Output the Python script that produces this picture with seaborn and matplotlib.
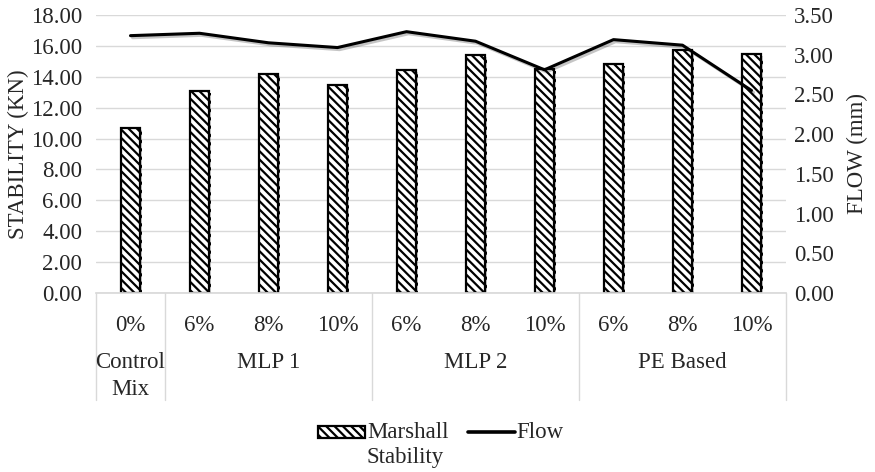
import matplotlib
matplotlib.use("Agg")
import matplotlib.pyplot as plt
import matplotlib.patheffects as pe
from matplotlib.lines import Line2D
from matplotlib.patches import Rectangle
import matplotlib.transforms as mtransforms
import seaborn as sns
import pandas as pd

# Mix groups and additive contents
groups = ["Control\nMix", "MLP 1", "MLP 2", "PE Based"]
group_sizes = [1, 3, 3, 3]
contents = ["0%", "6%", "8%", "10%", "6%", "8%", "10%", "6%", "8%", "10%"]

# Marshall test results
stability_kn = [10.70, 13.10, 14.20, 13.50, 14.45, 15.40, 14.50, 14.85, 15.75, 15.45]
flow_mm = [3.24, 3.27, 3.15, 3.09, 3.29, 3.17, 2.81, 3.19, 3.12, 2.55]

FS = 16.5
HATCH = "\\\\\\\\"

sns.set_theme(style="white")
plt.rcParams["font.family"] = ["Liberation Serif", "DejaVu Serif"]
plt.rcParams["font.size"] = FS
plt.rcParams["hatch.linewidth"] = 1.6

df = pd.DataFrame({
    "pos": list(range(len(contents))),
    "stability": stability_kn,
    "flow": flow_mm,
})

W, H = 875, 472
fig = plt.figure(figsize=(W / 100, H / 100), dpi=100)
ax = fig.add_axes([96 / W, 1 - 293 / H, 690 / W, 278 / H])

sns.barplot(data=df, x="pos", y="stability", ax=ax, width=0.27,
            color="white", edgecolor="black", linewidth=1.6, native_scale=True)
shadow = [pe.SimplePatchShadow(offset=(1.5, -1.5), alpha=0.25), pe.Normal()]
for bar in ax.patches:
    bar.set_hatch(HATCH)
    bar.set_path_effects(shadow)

ax.set_xlim(-0.5, len(contents) - 0.5)
ax.set_ylim(0, 18)
ax.set_yticks([i * 2 for i in range(10)])
ax.set_yticklabels([f"{i * 2:.2f}" for i in range(10)])
ax.set_ylabel("STABILITY (KN)", fontsize=FS, labelpad=1)
ax.set_xlabel("")
ax.grid(axis="y", color="#d9d9d9", linewidth=1)
ax.set_axisbelow(True)
for s in ["top", "left", "right"]:
    ax.spines[s].set_visible(False)
ax.spines["bottom"].set_color("#d9d9d9")
ax.tick_params(axis="y", length=0, pad=10, labelsize=FS)
ax.set_xticks(range(len(contents)))
ax.set_xticklabels(contents)
ax.tick_params(axis="x", length=0, pad=16, labelsize=FS)

ax2 = ax.twinx()
sns.lineplot(data=df, x="pos", y="flow", ax=ax2, color="black", linewidth=2.2,
             path_effects=[pe.SimpleLineShadow(offset=(1.5, -1.5), alpha=0.25), pe.Normal()])
ax2.set_ylim(0, 3.5)
ax2.set_yticks([i * 0.5 for i in range(8)])
ax2.set_yticklabels([f"{i * 0.5:.2f}" for i in range(8)])
ax2.set_ylabel("FLOW (mm)", fontsize=FS, labelpad=9)
ax2.set_xlabel("")
for s in ax2.spines.values():
    s.set_visible(False)
ax2.tick_params(axis="y", length=0, pad=6, labelsize=FS)
ax2.set_xlim(-0.5, len(contents) - 0.5)

# Group labels and separators beneath the content labels
trans = mtransforms.blended_transform_factory(ax.transData, fig.transFigure)
edges = [-0.5]
for n in group_sizes:
    edges.append(edges[-1] + n)
for e in edges:
    ax.add_line(Line2D([e, e], [1 - 293 / H, 1 - 400 / H], transform=trans,
                       color="#d9d9d9", linewidth=1, clip_on=False))
for g, a, b in zip(groups, edges[:-1], edges[1:]):
    ax.text((a + b) / 2, 1 - 352 / H, g, transform=trans, ha="center", va="top",
            fontsize=FS, linespacing=1.35)

# Legend: hatched swatch + two-line label, line swatch + label
fig.add_artist(Rectangle((318 / W, 1 - 438 / H), 47 / W, 12 / H, transform=fig.transFigure,
                         facecolor="white", edgecolor="black", hatch=HATCH, linewidth=1.6))
fig.text(367 / W, 1 - 432 / H, "Marshall", ha="left", va="center", fontsize=FS)
fig.text(405 / W, 1 - 458 / H, "Stability", ha="center", va="center", fontsize=FS)
fig.add_artist(Line2D([468 / W, 515 / W], [1 - 432 / H, 1 - 432 / H], transform=fig.transFigure,
                      color="black", linewidth=2.6))
fig.text(516 / W, 1 - 432 / H, "Flow", ha="left", va="center", fontsize=FS)

fig.savefig("out.png", dpi=100)
